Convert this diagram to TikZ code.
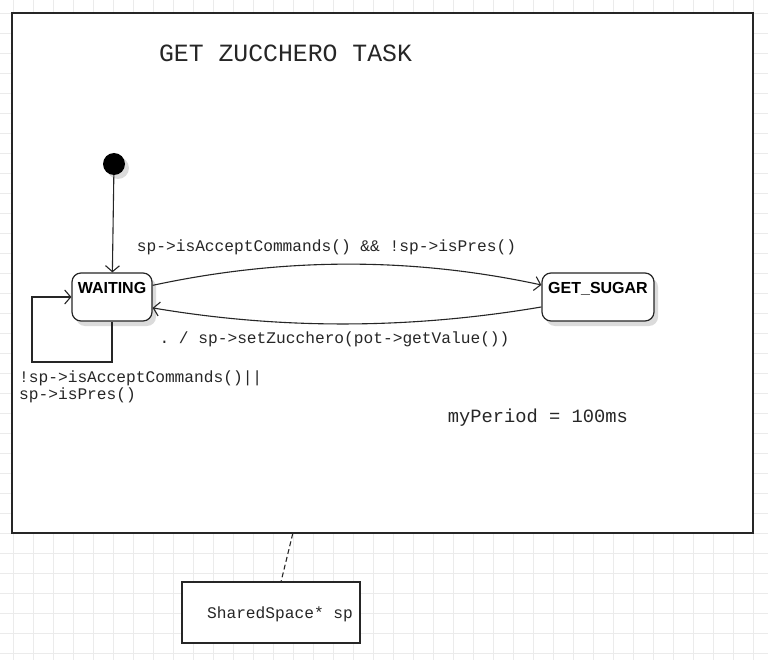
\documentclass[tikz,border=0pt]{standalone}
\usepackage{fontspec}
\setmainfont{Liberation Sans}
\setmonofont{Liberation Mono}
\usetikzlibrary{arrows.meta}

\tikzset{
	gridline/.style={draw=black!8, line width=0.8pt},
	shadowfill/.style={fill=black!14, rounded corners=9pt},
	state/.style={draw=black!85, line width=1.2pt, rounded corners=9pt, fill=white,
		minimum width=#1, inner xsep=0pt, inner ysep=0pt, text height=20.8pt, text depth=27.2pt,
		font=\fontsize{16}{19}\selectfont\bfseries},
	initial/.style={circle, fill=black, minimum size=22pt, inner sep=0pt},
	trans/.style={draw=black!85, line width=1.1pt, -{Straight Barb[length=6pt,width=14pt]}},
	code/.style={text=black!85, font=\ttfamily\fontsize{16.2}{15}\selectfont, inner sep=0pt},
}

\begin{document}
\begin{tikzpicture}[x=1pt,y=-1pt]
	\useasboundingbox (0,0) rectangle (768,660);
	% background grid
	\foreach \x in {13,33,...,753} \draw[gridline] (\x,0) -- (\x,660);
	\foreach \y in {13,33,...,653} \draw[gridline] (0,\y) -- (768,\y);
	\node[draw=black!85, line width=1.2pt, fill=white, minimum width=741pt, minimum height=520pt] (task) at (382.5,273) {};

	\node[code, font=\ttfamily\fontsize{24.8}{28}\selectfont] (title) at (285.5,53) {GET ZUCCHERO TASK};

	% shadows
	\fill[shadowfill] (118,168) circle[radius=11];
	\fill[shadowfill] (76,278) rectangle (156,326);
	\fill[shadowfill] (546,278) rectangle (658,326);

	\node[initial] (init) at (114,164) {};
	\node[state=80pt] (waiting) at (112,297) {WAITING};
	\node[state=112pt] (getsugar) at (598,297) {GET\_SUGAR};

	\draw[trans] (init) -- (waiting);
	\draw[trans] (waiting.16) .. controls +(130,-28) and +(-130,-28) .. (getsugar.168);
	\draw[trans] (getsugar.190) .. controls +(-130,22) and +(130,22) .. (waiting.345);
	\coordinate (loop) at (32,362);
	\draw[trans] (waiting.south) |- (loop) |- (waiting.west);

	\node[code] (lblgo) at (326.5,247) {sp->isAcceptCommands() \&\& !sp->isPres()};
	\node[code] (lblback) at (334.5,339) {. / sp->setZucchero(pot->getValue())};
	\node[code, anchor=north west, align=left] (lblloop) at (19,371) {!sp->isAcceptCommands()||\\sp->isPres()};
	\node[code, font=\ttfamily\fontsize{18.75}{20}\selectfont] (period) at (538,418) {myPeriod = 100ms};

	\node[draw=black!85, line width=1.2pt, fill=white, minimum width=178pt, minimum height=61pt,
		code, text depth=0pt] (shared) at (271,612.5) {\hspace*{18pt}SharedSpace* sp};
	\draw[black!85, line width=1.1pt, dash pattern=on 5pt off 3pt] (task.251.4) -- (shared.72);
\end{tikzpicture}
\end{document}
